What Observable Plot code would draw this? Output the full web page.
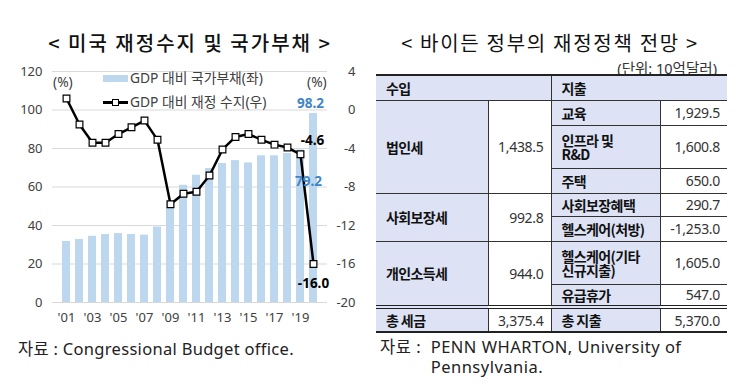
<!DOCTYPE html>
<html><head><meta charset="utf-8">
<script src="https://cdn.jsdelivr.net/npm/d3@7"></script>
<script src="https://cdn.jsdelivr.net/npm/@observablehq/plot@0.6"></script>
<style>
html,body{margin:0;padding:0;background:#fff;}
#root{position:relative;width:750px;height:389px;overflow:hidden;font-family:"Noto Sans","Noto Sans CJK KR",sans-serif;color:#222;}
.abs{position:absolute;}
.title{font-family:"Noto Sans CJK KR",sans-serif;font-size:20px;line-height:24px;text-align:center;color:#111;white-space:nowrap;}
.legend{font-size:13.8px;color:#404040;line-height:16px;white-space:nowrap;}
table{border-collapse:collapse;table-layout:fixed;font-family:"Noto Sans","Noto Sans CJK KR",sans-serif;}
td{padding:0;border:1px solid #333;vertical-align:middle;}
td:first-child{border-left:none;}
td:last-child{border-right:none;}
td.lab{background:#dde3f4;font-family:"Noto Sans CJK KR",sans-serif;font-weight:700;font-size:14px;letter-spacing:-0.6px;color:#111;padding-left:10px;line-height:14px;white-space:pre-line;}
td.val{background:#fff;font-size:14px;color:#333;text-align:right;padding-right:7px;letter-spacing:-0.3px;}
tr.head td{border-top:2px solid #222;}
tr.total td{border-top:4px double #222;border-bottom:2px solid #222;}
</style></head><body>
<div id="root">
  <div class="abs title" style="left:0;top:31px;width:380px;font-weight:500;letter-spacing:2px;">&lt; 미국 재정수지 및 국가부채 &gt;</div>
  <div class="abs title" style="left:370px;top:31px;width:360px;font-weight:400;letter-spacing:1.7px;">&lt; 바이든 정부의 재정정책 전망 &gt;</div>
  <div id="chart" class="abs" style="left:0;top:58px;"></div>
  <div class="abs legend" style="left:53px;top:74px;">(%)</div>
  <div class="abs legend" style="left:307px;top:74px;">(%)</div>
  <div class="abs" style="left:103px;top:75px;width:25px;height:7px;background:#bdd7ee;"></div>
  <div class="abs legend" style="left:130px;top:70px;">GDP 대비 국가부채(좌)</div>
  <div class="abs" style="left:103px;top:101px;width:25px;height:2.5px;background:#000;"></div>
  <div class="abs" style="left:112px;top:98.5px;width:5px;height:5px;background:#fff;border:1.2px solid #000;"></div>
  <div class="abs legend" style="left:130px;top:94px;">GDP 대비 재정 수지(우)</div>
  <div class="abs" style="left:540px;top:60px;width:177px;text-align:right;font-size:14.5px;line-height:16px;color:#333;">(단위: 10억달러)</div>
  <div id="tbl" class="abs" style="left:376px;top:74px;"></div>
  <div class="abs" style="left:18px;top:339px;font-size:16.5px;letter-spacing:0.3px;line-height:20px;color:#222;white-space:nowrap;">자료 : Congressional Budget office.</div>
  <div id="src2" class="abs" style="left:380px;top:337px;font-size:16.5px;letter-spacing:0.5px;line-height:20px;color:#222;display:flex;white-space:pre-line;"></div>
</div>
<script>
// ---- Chart data ----
const years = [2001,2002,2003,2004,2005,2006,2007,2008,2009,2010,2011,2012,2013,2014,2015,2016,2017,2018,2019,2020];
const debtRatio = [31.7,32.7,34.4,35.3,35.8,35.3,35.0,39.2,52.3,60.9,66.1,69.6,72.2,73.7,72.5,76.2,76.2,77.4,79.2,98.2];
const fiscalBalance = [1.2,-1.5,-3.4,-3.4,-2.5,-1.8,-1.1,-3.1,-9.8,-8.7,-8.5,-6.8,-4.1,-2.8,-2.5,-3.1,-3.6,-3.9,-4.6,-16.0];
const xTicks = [2001,2003,2005,2007,2009,2011,2013,2015,2017,2019];
const leftTicks = [0,20,40,60,80,100,120];
const rightTicks = [-20,-16,-12,-8,-4,0,4];
const seriesNames = ["GDP 대비 국가부채(좌)","GDP 대비 재정 수지(우)"];

// ---- Table data ----
const revenueItems = ["법인세","사회보장세","개인소득세"];
const revenueValues = [1438.5, 992.8, 944.0];
const spendingItems = ["교육","인프라 및\nR&D","주택","사회보장혜택","헬스케어(처방)","헬스케어(기타\n신규지출)","유급휴가"];
const spendingValues = [1929.5, 1600.8, 650.0, 290.7, -1253.0, 1605.0, 547.0];
const spendingGroup = [0,0,0,1,1,2,2];
const headerLabels = ["수입","지출"];
const totalLabels = ["총 세금","총 지출"];
const totalValues = [3375.4, 5370.0];
const sourceLabel = "자료 :  ";
const sourceText = "PENN WHARTON, University of\nPennsylvania.";

// right axis (-20..4) mapped onto left axis (0..120)
const toLeft = v => (v + 20) * 5;
const rows = years.map((y, i) => ({year: y, debt: debtRatio[i], bal: fiscalBalance[i], balY: toLeft(fiscalBalance[i])}));
const last = rows[rows.length - 1], prev = rows[rows.length - 2];

const chart = Plot.plot({
  width: 370, height: 280,
  marginLeft: 52, marginRight: 43, marginTop: 13, marginBottom: 36,
  style: {fontFamily: '"Noto Sans","Noto Sans CJK KR",sans-serif', fontSize: "13px", color: "#404040", background: "transparent", overflow: "visible"},
  x: {type: "band", domain: years, paddingInner: 0.37, paddingOuter: 0.185, axis: null},
  y: {domain: [0, 120], axis: null},
  marks: [
    Plot.ruleY(leftTicks, {stroke: "#d9d9d9", strokeWidth: 1}),
    Plot.barY(rows, {x: "year", y: "debt", fill: "#bdd7ee"}),
    Plot.axisX({ticks: xTicks, tickSize: 0, tickPadding: 10, label: null, tickFormat: d => "'" + String(d).slice(2), fontSize: 13}),
    Plot.axisY({ticks: leftTicks, tickSize: 0, tickPadding: 10, label: null, fontSize: 13}),
    Plot.axisY({anchor: "right", ticks: rightTicks.map(toLeft), tickSize: 0, tickPadding: 28, label: null, textAnchor: "end", tickFormat: d => String(d / 5 - 20), fontSize: 13}),
    Plot.line(rows, {x: "year", y: "balY", stroke: "#000", strokeWidth: 2.5}),
    Plot.dot(rows, {x: "year", y: "balY", symbol: "square", r: 3.8, fill: "#fff", stroke: "#000", strokeWidth: 1.2}),
    Plot.text([last], {x: "year", y: "debt", text: d => d.debt.toFixed(1), dx: -3, dy: -10, fill: "#3f86c8", fontWeight: "bold", fontSize: 13.5}),
    Plot.text([prev], {x: "year", y: "debt", text: d => d.debt.toFixed(1), dx: 8, dy: 32, fill: "#3f86c8", fontWeight: "bold", fontSize: 13.5}),
    Plot.text([prev], {x: "year", y: "balY", text: d => d.bal.toFixed(1), dx: 12, dy: -14, fill: "#000", fontWeight: "bold", fontSize: 13.5}),
    Plot.text([last], {x: "year", y: "balY", text: d => d.bal.toFixed(1), dx: 0, dy: 20, fill: "#000", fontWeight: "bold", fontSize: 13.5})
  ]
});
document.getElementById("chart").appendChild(chart);

// ---- Table ----
const fmt = d3.formatLocale({decimal: ".", thousands: ",", grouping: [3], currency: ["$", ""], minus: "-"}).format(",.1f");
const rowHeights = [25, 43, 25, 23, 25, 43, 23];
let html = '<table style="width:351px"><colgroup><col style="width:112px"><col style="width:63px"><col style="width:109px"><col style="width:67px"></colgroup>';
html += `<tr class="head" style="height:25px"><td class="lab" colspan="2">${headerLabels[0]}</td><td class="lab" colspan="2">${headerLabels[1]}</td></tr>`;
spendingItems.forEach((item, i) => {
  const g = spendingGroup[i];
  html += `<tr style="height:${rowHeights[i]}px">`;
  if (i === 0 || spendingGroup[i - 1] !== g) {
    const span = spendingGroup.filter(x => x === g).length;
    html += `<td class="lab" rowspan="${span}">${revenueItems[g]}</td><td class="val" rowspan="${span}">${fmt(revenueValues[g])}</td>`;
  }
  html += `<td class="lab">${item.replace(/&/g, "&amp;")}</td><td class="val">${fmt(spendingValues[i])}</td></tr>`;
});
html += `<tr class="total" style="height:25px"><td class="lab">${totalLabels[0]}</td><td class="val">${fmt(totalValues[0])}</td><td class="lab">${totalLabels[1]}</td><td class="val">${fmt(totalValues[1])}</td></tr>`;
html += "</table>";
document.getElementById("tbl").innerHTML = html;

const src = document.getElementById("src2");
const a = document.createElement("span"); a.textContent = sourceLabel; a.style.whiteSpace = "pre";
const b = document.createElement("span"); b.textContent = sourceText;
src.append(a, b);
</script>
</body></html>
